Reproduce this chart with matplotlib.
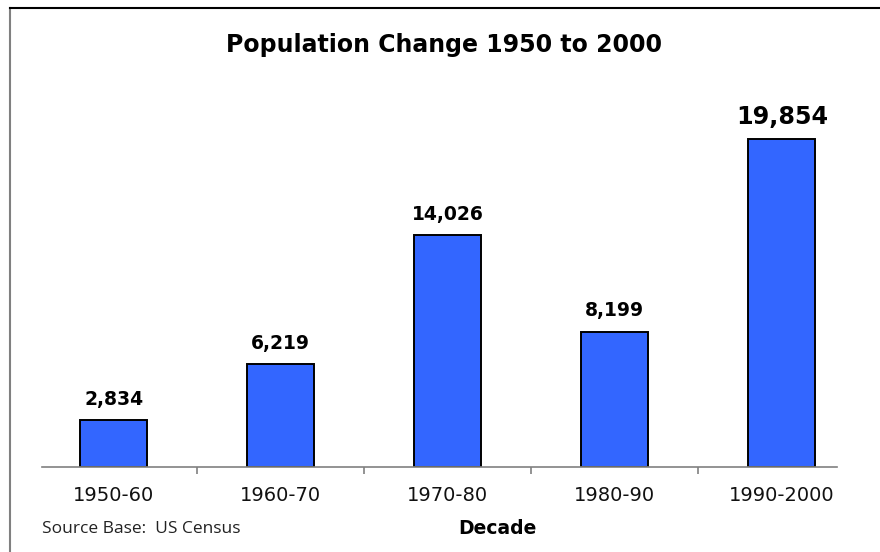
import matplotlib
matplotlib.use("Agg")
import matplotlib.pyplot as plt
from matplotlib.lines import Line2D

# decade-by-decade population change
decades = ["1950-60", "1960-70", "1970-80", "1980-90", "1990-2000"]
change = [2834, 6219, 14026, 8199, 19854]

W, H = 880, 552
fig = plt.figure(figsize=(W / 100, H / 100), dpi=100)
ax = fig.add_axes([42 / W, (H - 467) / H, (837 - 42) / W, (467 - 100) / H])

x = list(range(len(decades)))
ax.bar(x, change, width=0.4, color="#3366ff", edgecolor="black", linewidth=1.4)

ax.set_xlim(-0.43, 4.33)
ax.set_ylim(0, 19854 * 367 / 328)

for i, v in enumerate(change):
    big = i == len(change) - 1
    ax.annotate(f"{v:,}", (i, v), xytext=(0, 7 if big else 8), textcoords="offset points",
                ha="center", va="bottom", fontweight="bold",
                fontsize=17.2 if big else 13.5)

for s in ["top", "right", "left"]:
    ax.spines[s].set_visible(False)
ax.spines["bottom"].set_color("#808080")
ax.spines["bottom"].set_linewidth(1.2)
ax.set_yticks([])

# labels under bars, tick marks between them
ax.set_xticks(x)
ax.set_xticklabels(decades, fontsize=14, color="#111111")
ax.tick_params(axis="x", which="major", length=0, pad=14)
ax.set_xticks([i + 0.5 for i in x[:-1]], minor=True)
ax.tick_params(axis="x", which="minor", length=5, width=1.2, color="#808080")

fig.text(444 / W, 1 - 45 / H, "Population Change 1950 to 2000",
         ha="center", va="center", fontsize=17, fontweight="bold")
fig.text(497 / W, 1 - 528 / H, "Decade", ha="center", va="center",
         fontsize=13.5, fontweight="bold")
fig.text(42 / W, 1 - 529 / H, "Source Base:  US Census", ha="left", va="center",
         fontsize=12.5, family="Open Sans", color="#222222")

# outer frame: grey left edge, black top edge
fig.add_artist(Line2D([10 / W, 10 / W], [0, 1 - 8 / H], transform=fig.transFigure,
                      color="#808080", linewidth=1.5))
fig.add_artist(Line2D([10 / W, 1], [1 - 8 / H, 1 - 8 / H], transform=fig.transFigure,
                      color="black", linewidth=1.5))

fig.savefig("out.png", dpi=100)
